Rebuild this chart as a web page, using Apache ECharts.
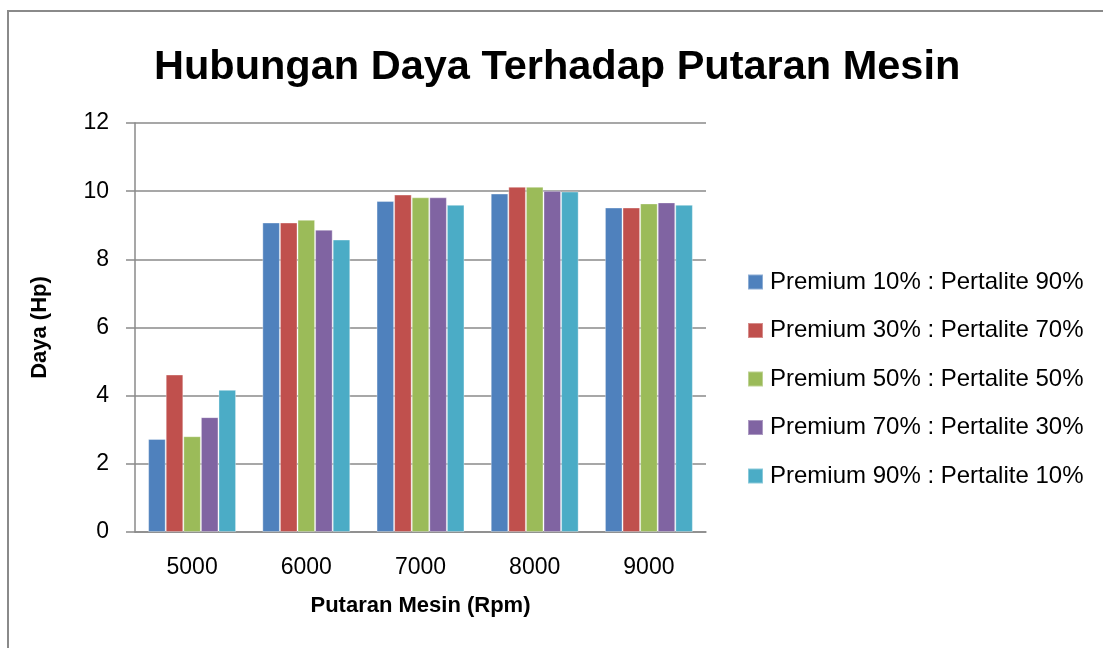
<!DOCTYPE html>
<html>
<head>
<meta charset="utf-8">
<title>Hubungan Daya Terhadap Putaran Mesin</title>
<script src="https://cdn.jsdelivr.net/npm/echarts@6/dist/echarts.min.js"></script>
<style>
    html, body { margin: 0; padding: 0; background: #fff; }
    #dayaChart { width: 1103px; height: 648px; }
</style>
</head>
<body>
<div id="dayaChart"></div>
<script>
// data putaran mesin (rpm)
var putaranMesin = ['5000', '6000', '7000', '8000', '9000'];
var namaCampuran = [
    'Premium 10% : Pertalite 90%',
    'Premium 30% : Pertalite 70%',
    'Premium 50% : Pertalite 50%',
    'Premium 70% : Pertalite 30%',
    'Premium 90% : Pertalite 10%'
];
var daya10 = [2.73, 9.08, 9.71, 9.93, 9.52];
var daya30 = [4.62, 9.08, 9.90, 10.13, 9.52];
var daya50 = [2.81, 9.16, 9.82, 10.13, 9.64];
var daya70 = [3.37, 8.87, 9.82, 10.01, 9.67];
var daya90 = [4.17, 8.58, 9.60, 9.99, 9.60];
var warnaSeri = ['#4f81bd', '#c0504d', '#9bbb59', '#8064a2', '#4bacc6'];

var dayaChart = {};
dayaChart.font = 'Liberation Sans';

dayaChart.buildSeries = function () {
    var semuaData = [daya10, daya30, daya50, daya70, daya90];
    var series = [];
    for (var i = 0; i < semuaData.length; i++) {
        series.push({
            name: namaCampuran[i],
            type: 'bar',
            barGap: '0%',
            barCategoryGap: '23%',
            itemStyle: {
                color: warnaSeri[i],
                borderColor: 'rgba(255,255,255,0.35)',
                borderWidth: 1
            },
            data: semuaData[i]
        });
    }
    return series;
};

dayaChart.render = function () {
    var myChart = echarts.init(document.getElementById('dayaChart'));
    var option = {
        animation: false,
        textStyle: { fontFamily: dayaChart.font },
        title: {
            text: 'Hubungan Daya Terhadap Putaran Mesin',
            left: 149,
            top: 42,
            textStyle: {
                fontFamily: dayaChart.font,
                fontSize: 41.5,
                fontWeight: 'bold',
                color: '#000'
            }
        },
        // bingkai luar seperti di excel
        graphic: [{
            type: 'rect',
            shape: { x: 8, y: 11, width: 1200, height: 700 },
            style: { fill: 'none', stroke: '#8a8a8a', lineWidth: 2 },
            silent: true
        }],
        legend: {
            orient: 'vertical',
            left: 742,
            top: 265,
            itemWidth: 15,
            itemHeight: 15,
            itemGap: 24.5,
            icon: 'rect',
            data: namaCampuran,
            textStyle: {
                fontFamily: dayaChart.font,
                fontSize: 24,
                lineHeight: 24,
                color: '#000',
                padding: [0, 0, 0, 2]
            }
        },
        grid: {
            left: 135,
            right: 397,
            top: 123,
            bottom: 116
        },
        xAxis: {
            type: 'category',
            data: putaranMesin,
            name: 'Putaran Mesin (Rpm)',
            nameLocation: 'middle',
            nameGap: 63,
            nameTextStyle: {
                fontFamily: dayaChart.font,
                fontSize: 22,
                fontWeight: 'bold',
                color: '#000'
            },
            axisLine: { lineStyle: { color: '#8a8a8a', width: 1.5 } },
            axisTick: { show: false },
            axisLabel: {
                margin: 24,
                fontSize: 23,
                color: '#000'
            }
        },
        yAxis: {
            type: 'value',
            min: 0,
            max: 12,
            interval: 2,
            name: 'Daya (Hp)',
            nameLocation: 'middle',
            nameGap: 84,
            nameTextStyle: {
                fontFamily: dayaChart.font,
                fontSize: 22,
                fontWeight: 'bold',
                color: '#000'
            },
            axisLine: { show: true, lineStyle: { color: '#8a8a8a', width: 1.5 } },
            axisTick: { show: true, inside: false, length: 9, lineStyle: { color: '#8a8a8a', width: 1.5 } },
            splitLine: { show: true, lineStyle: { color: '#8a8a8a', width: 1.5 } },
            axisLabel: {
                margin: 26,
                fontSize: 23,
                color: '#000'
            }
        },
        series: dayaChart.buildSeries()
    };
    myChart.setOption(option);
};

dayaChart.render();
</script>
</body>
</html>
